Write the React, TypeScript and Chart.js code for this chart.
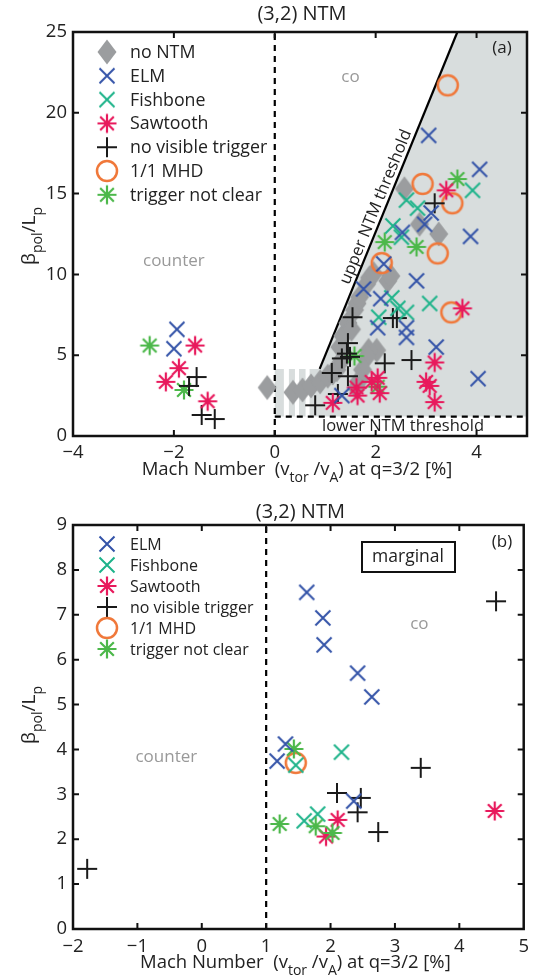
import React, { useEffect, useRef } from 'react';
import { Chart, registerables } from 'chart.js';
Chart.register(...registerables);

// ---------------- DATA: panel (a) ----------------
const noNtmA: [number, number][] = [
  [-0.15, 3.0], [0.36, 2.7], [0.55, 2.85], [0.72, 3.1], [0.9, 3.35], [1.05, 3.7],
  [1.15, 3.9], [1.23, 4.1], [1.33, 4.7], [1.29, 5.5], [1.35, 6.2], [1.45, 7.0],
  [1.52, 6.6], [1.58, 7.8], [1.63, 8.2], [1.68, 8.6], [1.82, 9.4], [1.88, 9.8],
  [1.96, 10.05], [2.24, 9.6], [2.3, 9.9], [2.02, 5.3], [1.86, 5.3], [1.82, 4.9],
  [1.74, 4.1], [1.68, 3.45], [1.62, 3.0], [2.57, 15.3], [2.87, 13.1], [3.25, 12.5],
];
const elmA: [number, number][] = [
  [-1.94, 6.6], [-2.0, 5.4], [3.05, 18.6], [4.06, 16.5], [3.1, 13.8], [2.97, 13.1],
  [2.53, 12.6], [3.88, 12.35], [2.16, 10.65], [2.81, 9.6], [1.76, 9.1], [2.1, 8.5],
  [2.04, 6.7], [2.61, 6.7], [2.61, 6.1], [3.2, 5.5], [4.03, 3.55], [1.33, 2.5],
];
const fishboneA: [number, number][] = [
  [3.92, 15.2], [2.61, 14.6], [2.83, 14.1], [2.34, 13.0], [2.51, 12.3],
  [2.32, 8.55], [2.44, 7.9], [2.61, 7.65], [3.07, 8.2], [2.06, 7.35],
];
const sawtoothA: [number, number][] = [
  [-1.58, 5.6], [-1.9, 4.2], [-2.16, 3.35], [-1.33, 2.15], [3.4, 15.2], [3.72, 7.9],
  [3.17, 4.55], [3.0, 3.35], [3.07, 3.1], [3.17, 2.1], [1.62, 3.0], [1.64, 2.5],
  [1.92, 3.35], [2.04, 3.6], [2.08, 2.65], [1.15, 2.05],
];
const noTriggerA: [number, number][] = [
  [-1.55, 3.65], [-1.7, 3.1], [-1.45, 1.3], [-1.19, 1.05], [3.17, 14.4], [1.54, 7.35],
  [2.34, 7.3], [2.42, 7.3], [1.45, 5.75], [1.43, 5.1], [1.49, 4.9], [1.33, 4.8],
  [2.18, 4.5], [2.71, 4.7], [1.13, 3.9], [1.45, 3.7], [1.25, 2.6], [0.8, 1.9],
];
const mhdA: [number, number][] = [
  [3.43, 21.7], [2.93, 15.6], [3.52, 14.4], [3.23, 11.3], [2.12, 10.7], [3.5, 7.65],
];
const unclearA: [number, number][] = [
  [-2.48, 5.6], [-1.8, 2.85], [3.62, 15.9], [2.18, 12.0], [2.81, 11.7], [1.58, 4.95], [2.04, 3.05],
];

// thresholds (panel a)
const upperThreshX = [0.89, 3.62];
const upperThreshY = [4.15, 25];
const lowerThresh = 1.2;
const stripeGapsX: [number, number][] = [[0.18, 0.28], [0.4, 0.48], [0.61, 0.69]];

// ---------------- DATA: panel (b) ----------------
const elmB: [number, number][] = [
  [1.63, 7.5], [1.88, 6.93], [1.9, 6.33], [2.42, 5.7], [2.64, 5.17], [1.17, 3.74], [1.3, 4.12], [2.36, 2.85],
];
const fishboneB: [number, number][] = [[1.46, 3.65], [2.17, 3.94], [1.59, 2.41], [1.8, 2.56]];
const sawtoothB: [number, number][] = [[2.11, 2.43], [1.93, 2.06], [4.55, 2.63]];
const noTriggerB: [number, number][] = [
  [4.57, 7.3], [2.1, 3.03], [2.47, 2.92], [2.42, 2.6], [2.74, 2.16], [3.4, 3.59], [-1.78, 1.34],
];
const mhdB: [number, number][] = [[1.46, 3.7]];
const unclearB: [number, number][] = [[1.43, 4.01], [1.21, 2.34], [1.77, 2.29], [2.03, 2.14]];

// axes
const xTicksA = [-4, -2, 0, 2, 4];
const yTicksA = [0, 5, 10, 15, 20, 25];
const xTicksB = [-2, -1, 0, 1, 2, 3, 4, 5];
const yTicksB = [0, 1, 2, 3, 4, 5, 6, 7, 8, 9];
const legendLabelsA = ['no NTM', 'ELM', 'Fishbone', 'Sawtooth', 'no visible trigger', '1/1 MHD', 'trigger not clear'];
const legendLabelsB = ['ELM', 'Fishbone', 'Sawtooth', 'no visible trigger', '1/1 MHD', 'trigger not clear'];

// ---------------- STYLE ----------------
const FONT = '"Open Sans", "DejaVu Sans", sans-serif';
const C = {
  gray: '#9b9d9f',
  blue: '#3353a8',
  teal: '#1db38a',
  red: '#e8195c',
  black: '#1a1a1a',
  orange: '#f0783a',
  green: '#4cb84a',
  shade: '#d8dddd',
  text: '#222',
  label: '#999',
};

function makeMarker(kind: string, color: string): HTMLCanvasElement {
  const s = 30;
  const c = document.createElement('canvas');
  c.width = s; c.height = s;
  const g = c.getContext('2d')!;
  const m = s / 2;
  g.strokeStyle = color; g.fillStyle = color; g.lineWidth = 2;
  g.beginPath();
  if (kind === 'diamond') {
    g.moveTo(m, m - 12.5); g.lineTo(m + 9.5, m); g.lineTo(m, m + 12.5); g.lineTo(m - 9.5, m); g.closePath(); g.fill();
    return c;
  }
  if (kind === 'x') {
    const r = 7.5;
    g.moveTo(m - r, m - r); g.lineTo(m + r, m + r); g.moveTo(m - r, m + r); g.lineTo(m + r, m - r);
  } else if (kind === 'plus') {
    const r = 10;
    g.moveTo(m - r, m); g.lineTo(m + r, m); g.moveTo(m, m - r); g.lineTo(m, m + r);
  } else if (kind === 'star') {
    const r = 9.5; const d = r * 0.72;
    g.lineWidth = 2.2;
    g.moveTo(m - r, m); g.lineTo(m + r, m); g.moveTo(m, m - r); g.lineTo(m, m + r);
    g.moveTo(m - d, m - d); g.lineTo(m + d, m + d); g.moveTo(m - d, m + d); g.lineTo(m + d, m - d);
  } else if (kind === 'circle') {
    g.lineWidth = 2.5;
    g.arc(m, m, 10, 0, Math.PI * 2);
  }
  g.stroke();
  return c;
}

type Mk = { kind: string; color: string };
const MK: Record<string, Mk> = {
  noNtm: { kind: 'diamond', color: C.gray },
  elm: { kind: 'x', color: C.blue },
  fish: { kind: 'x', color: C.teal },
  saw: { kind: 'star', color: C.red },
  plus: { kind: 'plus', color: C.black },
  mhd: { kind: 'circle', color: C.orange },
  unclear: { kind: 'star', color: C.green },
};

const fmt = (v: number) => (v < 0 ? '\u2212' + Math.abs(v) : String(v));

function drawRich(ctx: CanvasRenderingContext2D, parts: [string, boolean][], x: number, y: number, size: number, subSize: number, center = true) {
  let total = 0;
  for (const [t, sub] of parts) {
    ctx.font = `${sub ? subSize : size}px ${FONT}`;
    total += ctx.measureText(t).width;
  }
  let cx = center ? x - total / 2 : x;
  ctx.textBaseline = 'alphabetic';
  ctx.textAlign = 'left';
  for (const [t, sub] of parts) {
    ctx.font = `${sub ? subSize : size}px ${FONT}`;
    ctx.fillText(t, cx, y + (sub ? size * 0.38 : 0));
    cx += ctx.measureText(t).width;
  }
}

function commonPlugin(opts: {
  xTicks: number[]; yTicks: number[]; title: string; titleY: number; tag: string; tagPos: [number, number];
  legend: string[]; legendKeys: string[]; legendY0: number; legendDy: number; legendFont: number;
  yLabelCenter: number; xLabelY: number; markers: Record<string, HTMLCanvasElement>;
}) {
  return {
    id: 'common',
    afterDraw(chart: any) {
      const { ctx, chartArea: a, scales } = chart;
      const xs = scales.x, ys = scales.y;
      ctx.save();
      ctx.strokeStyle = '#111';
      ctx.lineWidth = 2.5;
      ctx.strokeRect(a.left, a.top, a.right - a.left, a.bottom - a.top);
      ctx.lineWidth = 2;
      ctx.beginPath();
      const tl = 6;
      for (const t of opts.xTicks) {
        const px = xs.getPixelForValue(t);
        if (px <= a.left + 2 || px >= a.right - 2) continue;
        ctx.moveTo(px, a.bottom); ctx.lineTo(px, a.bottom - tl);
        ctx.moveTo(px, a.top); ctx.lineTo(px, a.top + tl);
      }
      for (const t of opts.yTicks) {
        const py = ys.getPixelForValue(t);
        if (py <= a.top + 2 || py >= a.bottom - 2) continue;
        ctx.moveTo(a.left, py); ctx.lineTo(a.left + tl, py);
        ctx.moveTo(a.right, py); ctx.lineTo(a.right - tl, py);
      }
      ctx.stroke();
      ctx.fillStyle = C.text;
      ctx.font = `20px ${FONT}`;
      ctx.textAlign = 'center';
      ctx.textBaseline = 'middle';
      ctx.fillText(opts.title, (a.left + a.right) / 2 + 2, opts.titleY);
      ctx.font = `17px ${FONT}`;
      ctx.fillText(opts.tag, opts.tagPos[0], opts.tagPos[1]);
      ctx.fillStyle = C.text;
      drawRich(ctx, [['Mach Number  (v', false], ['tor', true], [' /v', false], ['A', true], [') at q=3/2 [%]', false]],
        (a.left + a.right) / 2 - 3, opts.xLabelY, 18.5, 14);
      ctx.save();
      ctx.translate(35, opts.yLabelCenter);
      ctx.rotate(-Math.PI / 2);
      drawRich(ctx, [['\u03b2', false], ['pol', true], ['/L', false], ['p', true]], 0, 0, 19, 14);
      ctx.restore();
      ctx.font = `${opts.legendFont}px ${FONT}`;
      ctx.textAlign = 'left';
      ctx.textBaseline = 'middle';
      opts.legend.forEach((lab, i) => {
        const y = opts.legendY0 + i * opts.legendDy;
        const img = opts.markers[opts.legendKeys[i]];
        ctx.drawImage(img, 107 - img.width / 2, y - img.height / 2);
        ctx.fillStyle = C.text;
        ctx.fillText(lab, 130, y + 1);
      });
      ctx.restore();
    },
  };
}

function buildDatasets(series: [string, [number, number][]][], markers: Record<string, HTMLCanvasElement>) {
  return series.map(([key, arr]) => ({
    label: key,
    data: arr.map(([x, y]) => ({ x, y })),
    pointStyle: markers[key],
    pointRadius: 8,
    showLine: false,
  }));
}

function scaleOpts(min: number, max: number, step: number, isX: boolean, size: number, bounds: boolean, pad: number) {
  return {
    type: 'linear',
    min, max,
    grid: { display: false, drawTicks: false },
    border: { display: false },
    ticks: {
      stepSize: step,
      includeBounds: bounds,
      padding: pad,
      color: C.text,
      font: { family: FONT, size: 18.5 },
      callback: (v: number) => fmt(v),
    },
    afterFit: (s: any) => { if (isX) s.height = size; else s.width = size; },
  };
}

function ChartA() {
  const ref = useRef<HTMLCanvasElement>(null);
  useEffect(() => {
    const markers: Record<string, HTMLCanvasElement> = {};
    for (const k of Object.keys(MK)) markers[k] = makeMarker(MK[k].kind, MK[k].color);
    const regionPlugin = {
      id: 'regionA',
      beforeDatasetsDraw(chart: any) {
        const { ctx, scales: { x, y } } = chart;
        ctx.save();
        ctx.fillStyle = C.shade;
        ctx.beginPath();
        ctx.moveTo(x.getPixelForValue(0), y.getPixelForValue(lowerThresh));
        ctx.lineTo(x.getPixelForValue(0), y.getPixelForValue(upperThreshY[0]));
        ctx.lineTo(x.getPixelForValue(upperThreshX[0]), y.getPixelForValue(upperThreshY[0]));
        ctx.lineTo(x.getPixelForValue(upperThreshX[1]), y.getPixelForValue(upperThreshY[1]));
        ctx.lineTo(x.getPixelForValue(5), y.getPixelForValue(25));
        ctx.lineTo(x.getPixelForValue(5), y.getPixelForValue(lowerThresh));
        ctx.closePath();
        ctx.fill();
        ctx.fillStyle = '#ffffff';
        for (const [g0, g1] of stripeGapsX) {
          const x0 = x.getPixelForValue(g0), x1 = x.getPixelForValue(g1);
          const yt = y.getPixelForValue(upperThreshY[0]), yb = y.getPixelForValue(lowerThresh);
          ctx.fillRect(x0, yt, x1 - x0, yb - yt);
        }
        ctx.strokeStyle = '#000';
        ctx.lineWidth = 2.2;
        ctx.beginPath();
        ctx.moveTo(x.getPixelForValue(upperThreshX[0]), y.getPixelForValue(upperThreshY[0]));
        ctx.lineTo(x.getPixelForValue(upperThreshX[1]), y.getPixelForValue(upperThreshY[1]));
        ctx.stroke();
        ctx.setLineDash([6, 5]);
        ctx.lineWidth = 2.2;
        ctx.beginPath();
        ctx.moveTo(x.getPixelForValue(0), y.getPixelForValue(0));
        ctx.lineTo(x.getPixelForValue(0), y.getPixelForValue(25));
        ctx.moveTo(x.getPixelForValue(0), y.getPixelForValue(lowerThresh));
        ctx.lineTo(x.getPixelForValue(5), y.getPixelForValue(lowerThresh));
        ctx.stroke();
        ctx.setLineDash([]);
        ctx.fillStyle = C.label;
        ctx.font = `17px ${FONT}`;
        ctx.textAlign = 'center';
        ctx.textBaseline = 'middle';
        ctx.fillText('co', x.getPixelForValue(1.5), y.getPixelForValue(22.2));
        ctx.fillText('counter', x.getPixelForValue(-2.0), y.getPixelForValue(10.8));
        ctx.fillStyle = C.text;
        ctx.font = `16.5px ${FONT}`;
        ctx.fillText('lower NTM threshold', 403, 426);
        const ang = Math.atan2(
          y.getPixelForValue(upperThreshY[1]) - y.getPixelForValue(upperThreshY[0]),
          x.getPixelForValue(upperThreshX[1]) - x.getPixelForValue(upperThreshX[0]));
        ctx.save();
        ctx.translate(376, 207);
        ctx.rotate(ang);
        ctx.fillText('upper NTM threshold', 0, 0);
        ctx.restore();
        ctx.restore();
      },
    };
    const chart = new Chart(ref.current!, {
      type: 'scatter',
      data: {
        datasets: buildDatasets([
          ['elm', elmA], ['fish', fishboneA], ['saw', sawtoothA], ['plus', noTriggerA],
          ['unclear', unclearA], ['mhd', mhdA], ['noNtm', noNtmA],
        ], markers) as any,
      },
      options: {
        responsive: false,
        animation: false,
        devicePixelRatio: 1,
        layout: { padding: { left: 0, top: 32, right: 9, bottom: 0 } },
        plugins: { legend: { display: false }, title: { display: false }, tooltip: { enabled: false } },
        scales: {
          x: scaleOpts(-4, 5, 2, true, 54, false, 6) as any,
          y: scaleOpts(0, 25, 5, false, 73, true, 6) as any,
        },
      },
      plugins: [regionPlugin, commonPlugin({
        xTicks: xTicksA, yTicks: yTicksA, title: '(3,2) NTM', titleY: 14, tag: '(a)', tagPos: [502, 48],
        legend: legendLabelsA, legendKeys: ['noNtm', 'elm', 'fish', 'saw', 'plus', 'mhd', 'unclear'],
        legendY0: 52, legendDy: 23.8, legendFont: 17.8, yLabelCenter: 236, xLabelY: 475, markers,
      })],
    });
    return () => chart.destroy();
  }, []);
  return <canvas ref={ref} width={536} height={490} style={{ position: 'absolute', left: 0, top: 0 }} />;
}

function ChartB() {
  const ref = useRef<HTMLCanvasElement>(null);
  useEffect(() => {
    const markers: Record<string, HTMLCanvasElement> = {};
    for (const k of Object.keys(MK)) markers[k] = makeMarker(MK[k].kind, MK[k].color);
    const regionPlugin = {
      id: 'regionB',
      beforeDatasetsDraw(chart: any) {
        const { ctx, scales: { x, y } } = chart;
        ctx.save();
        ctx.strokeStyle = '#000';
        ctx.lineWidth = 2.2;
        ctx.setLineDash([6, 5]);
        ctx.beginPath();
        ctx.moveTo(x.getPixelForValue(1), y.getPixelForValue(0));
        ctx.lineTo(x.getPixelForValue(1), y.getPixelForValue(9));
        ctx.stroke();
        ctx.setLineDash([]);
        ctx.fillStyle = C.label;
        ctx.font = `17px ${FONT}`;
        ctx.textAlign = 'center';
        ctx.textBaseline = 'middle';
        ctx.fillText('co', x.getPixelForValue(3.38), y.getPixelForValue(6.8));
        ctx.fillText('counter', x.getPixelForValue(-0.55), y.getPixelForValue(3.83));
        ctx.fillStyle = C.text;
        ctx.font = `17.5px ${FONT}`;
        ctx.fillText('marginal', 408, 67);
        ctx.lineWidth = 2;
        ctx.strokeStyle = '#111';
        ctx.strokeRect(362, 52, 93, 30);
        ctx.restore();
      },
    };
    const chart = new Chart(ref.current!, {
      type: 'scatter',
      data: {
        datasets: buildDatasets([
          ['elm', elmB], ['unclear', unclearB], ['fish', fishboneB], ['saw', sawtoothB],
          ['plus', noTriggerB], ['mhd', mhdB],
        ], markers) as any,
      },
      options: {
        responsive: false,
        animation: false,
        devicePixelRatio: 1,
        layout: { padding: { left: 0, top: 35, right: 9, bottom: 0 } },
        plugins: { legend: { display: false }, title: { display: false }, tooltip: { enabled: false } },
        scales: {
          x: scaleOpts(-2, 5, 1, true, 46, true, 7) as any,
          y: scaleOpts(0, 9, 1, false, 73, true, 6) as any,
        },
      },
      plugins: [regionPlugin, commonPlugin({
        xTicks: xTicksB, yTicks: yTicksB, title: '(3,2) NTM', titleY: 22, tag: '(b)', tagPos: [502, 52],
        legend: legendLabelsB, legendKeys: ['elm', 'fish', 'saw', 'plus', 'mhd', 'unclear'],
        legendY0: 54, legendDy: 21, legendFont: 16, yLabelCenter: 225, xLabelY: 478, markers,
      })],
    });
    return () => chart.destroy();
  }, []);
  return <canvas ref={ref} width={536} height={485} style={{ position: 'absolute', left: 0, top: 490 }} />;
}

export default function App() {
  return (
    <div style={{ position: 'absolute', left: 0, top: 0, width: 536, height: 975, background: '#fff' }}>
      <ChartA />
      <ChartB />
    </div>
  );
}
